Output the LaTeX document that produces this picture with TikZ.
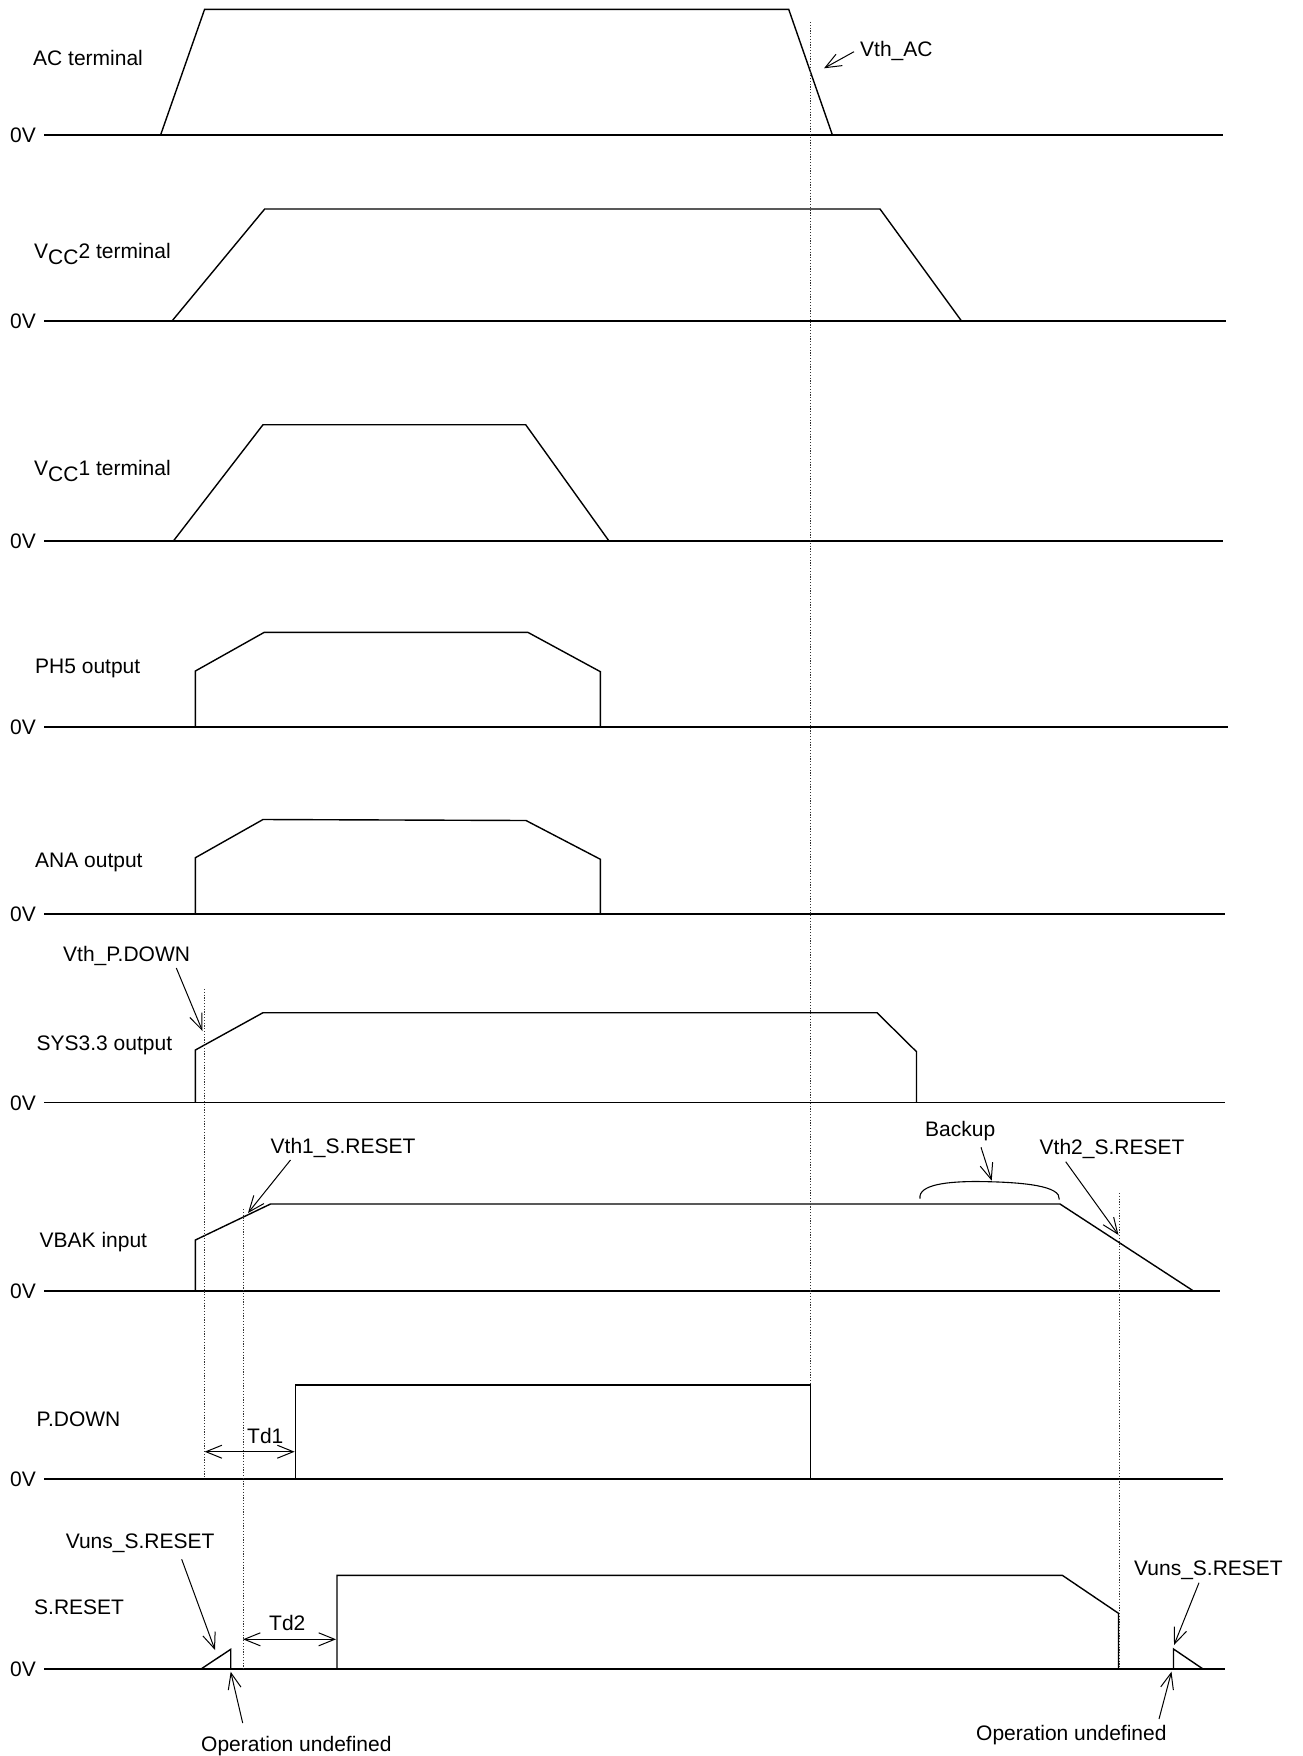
\documentclass[tikz,border=0pt]{standalone}
\usepackage{fontspec}
\setmainfont{Liberation Sans}
\usetikzlibrary{arrows.meta}
\begin{document}
\begin{tikzpicture}[x=1pt,y=-1pt,
  lbl/.style={anchor=base west,inner sep=0pt,font=\fontsize{21}{25}\selectfont},
  wave/.style={line width=1.4pt,line join=miter},
  axis/.style={line width=1.6pt},
  guide/.style={line width=0.9pt,dash pattern=on 1.2pt off 1.6pt,black!80},
  note/.style={line width=1pt,-{Straight Barb[length=16pt,width=13pt,line width=1pt]}},
  span/.style={line width=1.2pt,{Straight Barb[length=16pt,width=13pt,line width=1pt]}-{Straight Barb[length=16pt,width=13pt,line width=1pt]}}]
\useasboundingbox (0,0) rectangle (1303,1756);
\fill[white] (0,0) rectangle (1303,1756);

% ---------- baselines and 0V labels ----------
\foreach \y/\e [count=\i] in {135/1223,321/1226,541/1223,727/1228,914/1225,1102.5/1225,1291/1220,1479/1223,1669/1225}{
  \node[lbl] (zero\i) at (10,\y+7.5) {0V};
  \draw[axis] (44,\y) -- (\e,\y);
}

% ---------- signal names ----------
\node[lbl] (nAC)   at (33,65)     {AC terminal};
\node[lbl] (nVCC2) at (34,258)    {V\raisebox{-6pt}{CC}2 terminal};
\node[lbl] (nVCC1) at (34,475)    {V\raisebox{-6pt}{CC}1 terminal};
\node[lbl] (nPH5)  at (35,673)    {PH5 output};
\node[lbl] (nANA)  at (35,867)    {ANA output};
\node[lbl] (nSYS)  at (36.5,1050) {SYS3.3 output};
\node[lbl] (nVBAK) at (39.5,1247) {VBAK input};
\node[lbl] (nPD)   at (36.5,1426.5) {P.DOWN};
\node[lbl] (nSR)   at (34,1614)   {S.RESET};

% ---------- waveforms ----------
\draw[wave] (160.6,135) -- (204.6,9.3) -- (788.7,9.3) -- (832.4,135);
\draw[wave] (172,321) -- (264.7,209) -- (880,209) -- (961.5,321);
\draw[wave] (173.4,541) -- (263,424.7) -- (525.7,424.7) -- (609,541);
\draw[wave] (195.4,727) -- (195.4,671) -- (264.3,632.3) -- (527.8,632.3) -- (600.4,671.7) -- (600.4,727);
\draw[wave] (195.4,914) -- (195.4,857.7) -- (263,819.5) -- (526,820.5) -- (600.4,859.3) -- (600.4,914);
\draw[wave] (195.4,1102.5) -- (195.4,1050) -- (263,1012.7) -- (877,1012.7) -- (916.5,1051.7) -- (916.5,1102.5);
\draw[wave] (195.4,1291) -- (195.4,1240) -- (270.5,1204) -- (1060,1204) -- (1193.5,1291);
\draw[wave] (295.4,1479) -- (295.4,1385) -- (810.3,1385) -- (810.3,1479);
\draw[wave] (201,1669) -- (230.7,1649.3) -- (230.7,1669);
\draw[wave] (337,1669) -- (337,1575.3) -- (1062.3,1575.3) -- (1118.5,1613.3) -- (1118.5,1669);
\draw[wave] (1173.5,1669) -- (1173.5,1649) -- (1203,1669);

% ---------- guide lines ----------
\draw[guide] (810.3,22) -- (810.3,1385);
\draw[guide] (204.6,989) -- (204.6,1479);
\draw[guide] (243,1209) -- (243,1669);
\draw[guide] (1119.4,1193) -- (1119.4,1669);

% ---------- backup bracket ----------
\draw[line width=1.1pt] (920,1198.5) .. controls (918,1184) and (950,1181.5) .. (977,1181.5)
   .. controls (1025,1182) and (1061,1186) .. (1059.3,1199.5);

% ---------- annotations ----------
\node[lbl] (tVthAC) at (860,56.5)    {Vth\_AC};
\node[lbl] (tVthPD) at (63,961.5)    {Vth\_P.DOWN};
\node[lbl] (tVth1)  at (270.5,1153)  {Vth1\_S.RESET};
\node[lbl] (tBack)  at (925,1136)    {Backup};
\node[lbl] (tVth2)  at (1039.5,1154) {Vth2\_S.RESET};
\node[lbl] (tTd1)   at (247,1443)    {Td1};
\node[lbl] (tVunsL) at (65.6,1548)   {Vuns\_S.RESET};
\node[lbl] (tTd2)   at (269,1630.5)  {Td2};
\node[lbl] (tOpL)   at (201,1751)    {Operation undefined};
\node[lbl] (tVunsR) at (1134,1575)   {Vuns\_S.RESET};
\node[lbl] (tOpR)   at (976,1740)    {Operation undefined};

\coordinate (sVthAC) at (854,51.7);    \coordinate (eVthAC) at (824,68.3);
\coordinate (sVthPD) at (176.3,968);   \coordinate (eVthPD) at (202.5,1031);
\coordinate (sVth1)  at (290.5,1160);  \coordinate (eVth1)  at (248,1213);
\coordinate (sBack)  at (981,1147.3);  \coordinate (eBack)  at (991.7,1180.7);
\coordinate (sVth2)  at (1065.7,1161.7); \coordinate (eVth2) at (1118.5,1235);
\coordinate (sVunsL) at (181.7,1559.3); \coordinate (eVunsL) at (215,1650);
\coordinate (sOpL)   at (242.7,1723);  \coordinate (eOpL)   at (230.7,1671.7);
\coordinate (sVunsR) at (1199,1582.7); \coordinate (eVunsR) at (1174,1645);
\coordinate (sOpR)   at (1159,1719);   \coordinate (eOpR)   at (1171.5,1671.7);
\coordinate (aTd1)   at (204.6,1451.7); \coordinate (bTd1)  at (294.6,1451.7);
\coordinate (aTd2)   at (243,1639.3);  \coordinate (bTd2)   at (336,1639.3);

\draw[note] (sVthAC) -- (eVthAC);
\draw[note] (sVthPD) -- (eVthPD);
\draw[note] (sVth1) -- (eVth1);
\draw[note] (sBack) -- (eBack);
\draw[note] (sVth2) -- (eVth2);
\draw[note] (sVunsL) -- (eVunsL);
\draw[note] (sOpL) -- (eOpL);
\draw[note] (sVunsR) -- (eVunsR);
\draw[note] (sOpR) -- (eOpR);
\draw[span] (aTd1) -- (bTd1);
\draw[span] (aTd2) -- (bTd2);
\end{tikzpicture}
\end{document}
